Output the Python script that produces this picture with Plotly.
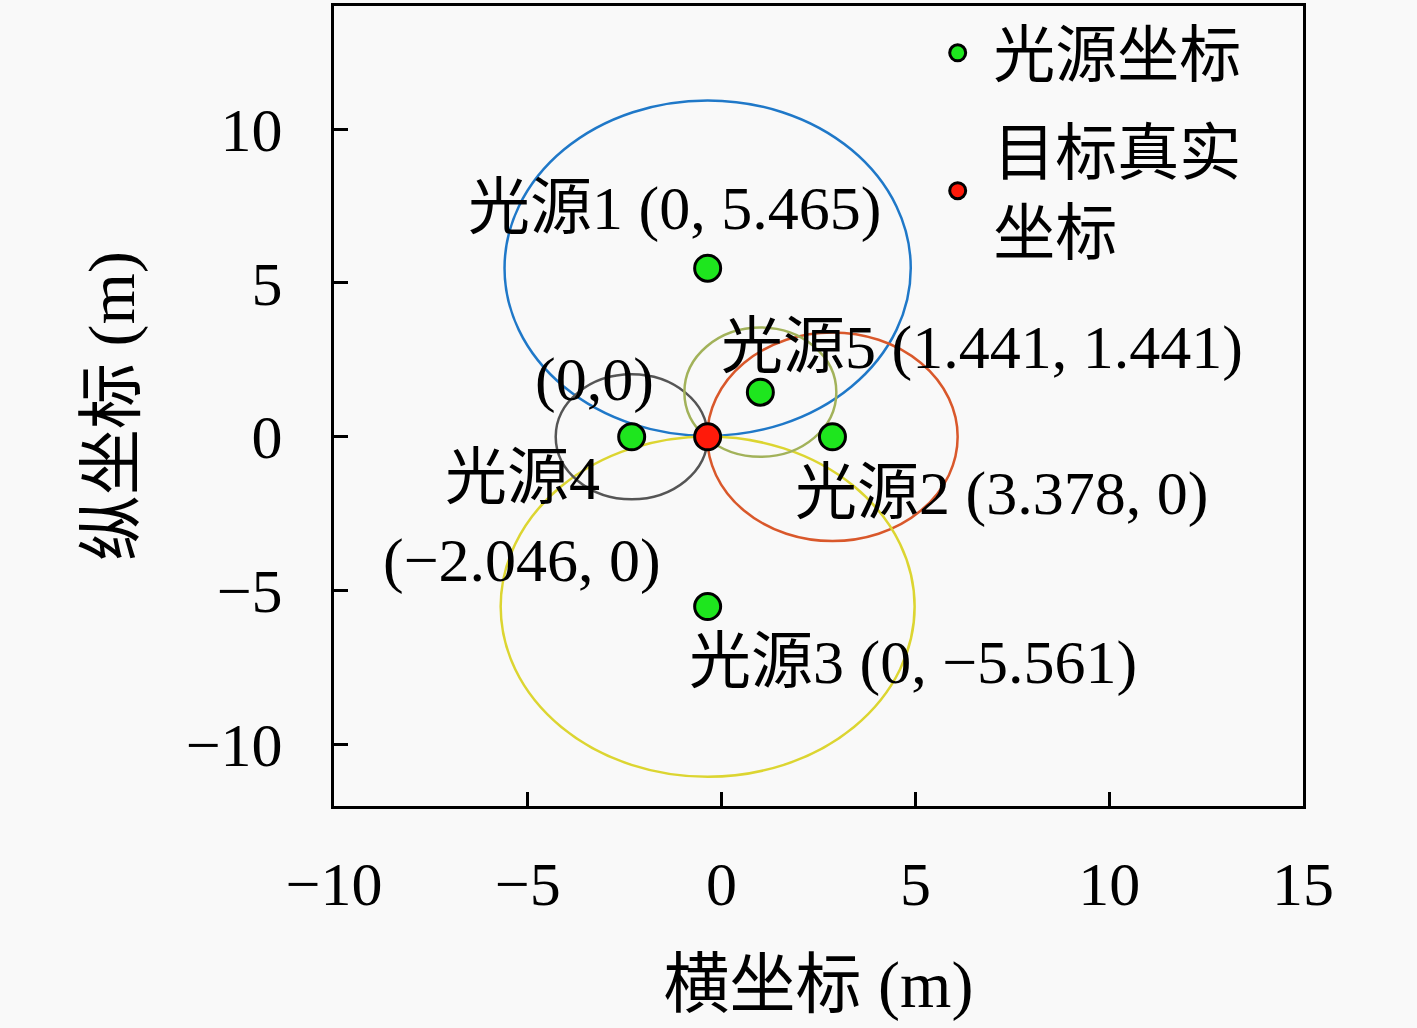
import plotly.graph_objects as go

# light-source positions as drawn (metres)
source_x = [-0.36, 2.86, -0.36, -2.32, 1.0]
source_y = [5.48, 0.0, -5.52, 0.0, 1.45]

# true target position
target_x = [-0.36]
target_y = [0.0]

# circle half-widths / half-heights around each source
radius_x = [5.24, 3.23, 5.34, 1.96, 1.96]
radius_y = [5.45, 3.39, 5.53, 2.03, 2.10]
circle_colors = ["#1f78c8", "#d9582b", "#dcd531", "#555555", "#a2b25a"]

label_texts = [
    "光源1 (0, 5.465)",
    "光源2 (3.378, 0)",
    "光源3 (0, −5.561)",
    "光源4",
    "(−2.046, 0)",
    "光源5 (1.441, 1.441)",
    "(0,0)",
]
label_x = [-1.21, 7.22, 4.95, -5.13, -5.15, 6.73, -3.27]
label_y = [7.42, -1.84, -7.32, -1.35, -4.03, 2.90, 1.87]

FONT = "Liberation Serif, Noto Sans CJK SC, serif"
NB = "\u00a0"

fig = go.Figure()

fig.add_trace(go.Scatter(
    x=source_x, y=source_y, mode="markers", name=NB + "光源坐标",
    legendgroup="src",
    marker=dict(size=26, color="#1ee61e", line=dict(color="black", width=3)),
))
fig.add_trace(go.Scatter(
    x=target_x, y=target_y, mode="markers",
    name=NB + "目标真实<br>" + NB + "坐标", legendgroup="tgt",
    marker=dict(size=26, color="#ff1a0a", line=dict(color="black", width=3)),
))

for cx, cy, rx, ry, col in zip(source_x, source_y, radius_x, radius_y, circle_colors):
    fig.add_shape(type="circle", xref="x", yref="y",
                  x0=cx - rx, x1=cx + rx, y0=cy - ry, y1=cy + ry,
                  line=dict(color=col, width=2.5), layer="below")

for t, lx, ly in zip(label_texts, label_x, label_y):
    fig.add_annotation(x=lx, y=ly, text=t, showarrow=False,
                       xanchor="center", yanchor="middle",
                       font=dict(family=FONT, size=62, color="black"))

axis_style = dict(
    showline=True, linecolor="black", linewidth=3, mirror=True,
    ticks="inside", ticklen=14, tickwidth=2.5, tickcolor="black",
    showgrid=False, zeroline=False,
    tickfont=dict(family=FONT, size=62, color="black"),
)

fig.update_xaxes(range=[-10, 15], tickvals=[-10, -5, 0, 5, 10, 15],
                 ticktext=["−10", "−5", "0", "5", "10", "15"],
                 ticklabelstandoff=22,
                 title=dict(text="横坐标 (m)", standoff=44,
                            font=dict(family=FONT, size=66, color="black")),
                 **axis_style)
fig.update_yaxes(range=[-12, 14], tickvals=[-10, -5, 0, 5, 10],
                 ticktext=["−10", "−5", "0", "5", "10"],
                 ticklabelstandoff=36,
                 title=dict(text="纵坐标 (m)", standoff=30,
                            font=dict(family=FONT, size=66, color="black")),
                 **axis_style)

fig.update_layout(
    width=1417, height=1028,
    margin=dict(l=334, r=114, t=3, b=222),
    paper_bgcolor="#f9f9f9", plot_bgcolor="#f9f9f9",
    showlegend=True,
    legend=dict(x=0.623, y=1.0, xanchor="left", yanchor="top",
                bgcolor="rgba(0,0,0,0)", itemsizing="trace",
                tracegroupgap=14,
                font=dict(family=FONT, size=62, color="black")),
)

fig.write_html("out.html", config={"displayModeBar": False},
               post_script="document.body.style.margin='0';")
